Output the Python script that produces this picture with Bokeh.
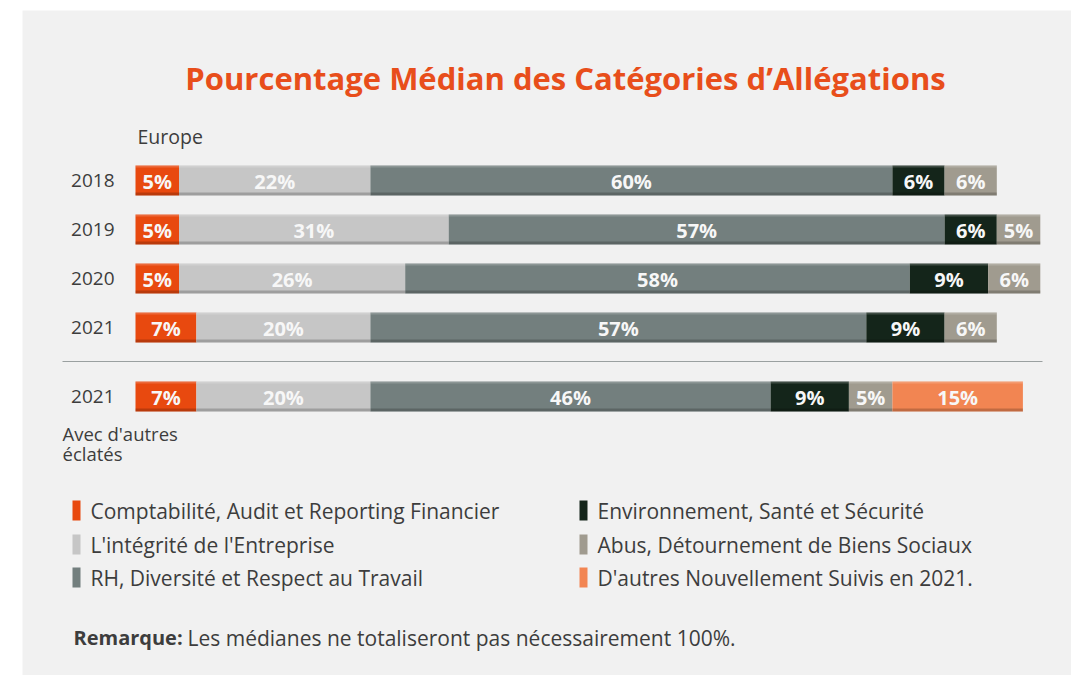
from bokeh.plotting import figure
from bokeh.models import Range1d
from bokeh.core.properties import value
from bokeh.embed import file_html
from bokeh.resources import INLINE

# ---------------- data ----------------
title = "Pourcentage Médian des Catégories d\u2019Allégations"
region = "Europe"
years = ["2018", "2019", "2020", "2021", "2021"]
categories = [
    "Comptabilité, Audit et Reporting Financier",
    "L'intégrité de l'Entreprise",
    "RH, Diversité et Respect au Travail",
    "Environnement, Santé et Sécurité",
    "Abus, Détournement de Biens Sociaux",
    "D'autres Nouvellement Suivis en 2021.",
]
compta = [5, 5, 5, 7, 7]
integrite = [22, 31, 26, 20, 20]
rh = [60, 57, 58, 57, 46]
env = [6, 6, 9, 9, 9]
abus = [6, 5, 6, 6, 5]
autres = [0, 0, 0, 0, 15]
series = [compta, integrite, rh, env, abus, autres]
colors = ["#e8490f", "#c6c6c6", "#737f7e", "#14251a", "#a09b8f", "#f28552"]
note_bold = "Remarque:"
note_text = "Les médianes ne totaliseront pas nécessairement 100%."
split_label = ["Avec d'autres", "éclatés"]

# ---------------- layout ----------------
W, H = 1071, 675
FONT = value("Open Sans")
TXT = "#3d3d3d"
bar_x0 = 135          # px where 0% sits
px_per_pct = 8.7
bar_h = 30
row_y = [180 + 49 * i for i in range(4)] + [180 + 49 * 3 + 69]

p = figure(width=W, height=H, output_backend="svg", toolbar_location=None,
           x_range=Range1d(0, W), y_range=Range1d(H, 0),
           min_border=0, background_fill_color="white", border_fill_color="white",
           outline_line_color=None)
p.axis.visible = False
p.grid.visible = False
p.extra_x_ranges = {"pct": Range1d(-bar_x0 / px_per_pct, (W - bar_x0) / px_per_pct)}

# panel
p.quad(left=22, right=W, top=10, bottom=H, color="#f1f1f1", line_color=None)

# title
p.text(x=[565], y=[77], text=[title], text_font=FONT, text_font_size="31px",
       text_font_style="bold", text_color="#e84e1b", text_align="center",
       text_baseline="middle")
p.text(x=[137], y=[136], text=[region], text_font=FONT, text_font_size="19.5px",
       text_color=TXT, text_align="left", text_baseline="middle")

# bars
for r, y in enumerate(row_y):
    left = 0
    for s, vals in enumerate(series):
        v = vals[r]
        if v <= 0:
            continue
        p.hbar(y=[y], left=[left], right=[left + v], height=bar_h,
               color=colors[s], line_color=None, x_range_name="pct")
        # subtle bevel: light top edge, dark bottom edge
        p.hbar(y=[y - bar_h / 2 + 1], left=[left], right=[left + v], height=2,
               color="white", alpha=0.18, line_color=None, x_range_name="pct")
        p.hbar(y=[y + bar_h / 2 - 1.5], left=[left], right=[left + v], height=3,
               color="black", alpha=0.2, line_color=None, x_range_name="pct")
        p.text(x=[left + v / 2], y=[y + 1], text=[f"{v}%"], text_font=FONT,
               text_font_size="20px", text_font_style="bold", text_color="#f7f7f7",
               text_align="center", text_baseline="middle", x_range_name="pct")
        left += v
    p.text(x=[114], y=[y], text=[years[r]], text_font=FONT, text_font_size="19px",
           text_color=TXT, text_align="right", text_baseline="middle")

# separator
p.segment(x0=[62], x1=[1042], y0=[361], y1=[361], line_color="#9aa0a0", line_width=1)
p.text(x=[62, 62], y=[433, 453], text=split_label, text_font=FONT,
       text_font_size="18.5px", text_color=TXT, text_align="left", text_baseline="middle")

# legend
leg_rows = [510, 544, 577]
for i, cat in enumerate(categories):
    col, row = divmod(i, 3)
    sx = 72 if col == 0 else 579
    y = leg_rows[row]
    p.quad(left=sx, right=sx + 8, top=y - 10, bottom=y + 10, color=colors[i], line_color=None)
    p.text(x=[sx + 18], y=[y], text=[cat], text_font=FONT, text_font_size="21px",
           text_color=TXT, text_align="left", text_baseline="middle")

# note
p.text(x=[73], y=[637], text=[note_bold], text_font=FONT, text_font_size="20px",
       text_font_style="bold", text_color=TXT, text_align="left", text_baseline="middle")
p.text(x=[187], y=[637], text=[note_text], text_font=FONT, text_font_size="21px",
       text_color=TXT, text_align="left", text_baseline="middle")

open("out.html", "w").write(file_html(p, INLINE))
